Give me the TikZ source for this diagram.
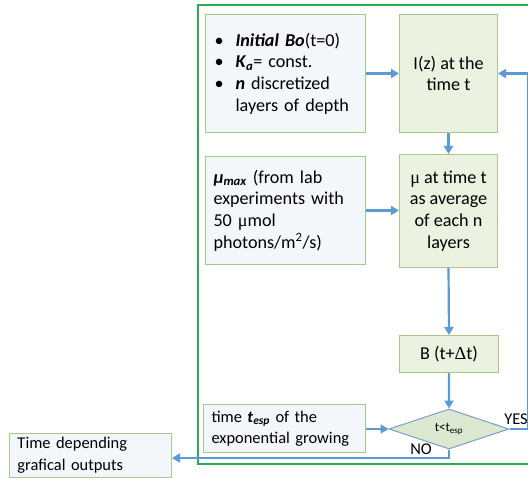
\documentclass[tikz,border=0pt]{standalone}
\usepackage{fontspec}
\setmainfont{Carlito}
\newfontfamily\grk{Liberation Serif}
\usetikzlibrary{shapes.geometric,arrows.meta}

\definecolor{framegreen}{RGB}{44,170,84}
\definecolor{edgegreen}{RGB}{168,200,140}
\definecolor{inputfill}{RGB}{243,246,250}
\definecolor{stepfill}{RGB}{236,242,224}
\definecolor{testfill}{RGB}{221,232,208}
\definecolor{flowblue}{RGB}{91,155,213}
\definecolor{testedge}{RGB}{120,160,200}

\newcommand{\bi}[1]{\textbf{\textit{#1}}}
\newcommand{\bsub}[1]{\textsubscript{\bfseries\itshape #1}}
\newcommand{\itm}[1]{\makebox[21bp][l]{\textbullet}#1}

\tikzset{
  x=1bp, y=-1bp,
  txt/.style={font=\fontsize{16.5}{21.6}\selectfont},
  bigtxt/.style={font=\fontsize{18.2}{21.8}\selectfont},
  inbox/.style={txt, draw=edgegreen, fill=inputfill, line width=1pt,
    anchor=north west, inner xsep=9bp, inner ysep=0pt, align=left},
  stepbox/.style={bigtxt, draw=edgegreen, fill=stepfill, line width=1pt,
    anchor=north west, inner sep=0pt, align=center},
  testbox/.style={diamond, draw=testedge, fill=testfill, line width=1pt,
    inner sep=0pt, aspect=3, minimum width=120bp, minimum height=40bp,
    font=\fontsize{13}{15}\selectfont},
  flow/.style={draw=flowblue, line width=2.2bp,
    -{Triangle[length=8bp,width=9bp]}},
  frame/.style={draw=framegreen, line width=2bp},
  tag/.style={txt, inner sep=0pt}
}

\begin{document}
\begin{tikzpicture}
\useasboundingbox (0,0) rectangle (528,478);
\clip (0,0) rectangle (528,478);
\fill[white] (0,0) rectangle (528,478);

% enclosing loop frame
\draw[frame] (198,5) rectangle (560,464);

% inputs on the left
\node[inbox, bigtxt, minimum width=160bp, minimum height=118bp, text width=142bp] (init) at (205,14)
  {\itm{\bi{Initial Bo}(t=0)}\\
   \itm{\bi{K}\bsub{a}= const.}\\
   \itm{\bi{n} discretized}\\
   \hspace*{21bp}layers of depth};
\node[inbox, bigtxt, minimum width=160bp, minimum height=108bp, text width=144bp, inner xsep=8bp] (mumax) at (205,156)
  {\bi{\char"03BC}\bsub{max} (from lab\\
   experiments with\\
   50 {\grk\char"03BC}mol\\
   photons/m\textsuperscript{2}/s)};
\node[inbox, minimum width=162bp, minimum height=48bp, text width=146bp, inner xsep=8bp] (tesp) at (203,404)
  {time \bi{t}\bsub{esp} of the\\ exponential growing};
\node[inbox, text width=146bp, inner xsep=8bp, inner ysep=4bp, minimum width=162bp] (out) at (9,433)
  {Time depending\\ grafical outputs};

% model steps
\node[stepbox, minimum width=98bp, minimum height=118bp] (iz) at (399,14)
  {I(z) at the\\ time t};
\node[stepbox, minimum width=98bp, minimum height=113bp] (mu) at (399,154)
  {{\grk\char"03BC} at time t\\ as average\\ of each n\\ layers};
\node[stepbox, minimum width=99bp, minimum height=37bp] (bio) at (399,335)
  {B (t+{\grk\char"0394}t)};
\node[testbox] (test) at (449,429) {t<t\textsubscript{esp}};

% connectors
\coordinate (back) at (528,429);
\coordinate (stop) at (449,458);
\draw[flow] (init.east) -- (iz.west);
\draw[flow] (mumax.east) -- (mumax.east -| mu.west);
\draw[flow] (iz.south) -- (mu.north);
\draw[flow] (mu.south) -- (bio.north);
\draw[flow] (bio.south) -- (test.north);
\draw[flow] (tesp.east |- test.west) -- (test.west);
\draw[flow] (test.east) -- (back) |- (iz.east);
\draw[flow] (test.south) -- (stop) -- (stop -| out.east);

\node[tag] (yes) at (516,419) {YES};
\node[tag] (no) at (421,449) {NO};
\end{tikzpicture}
\end{document}
